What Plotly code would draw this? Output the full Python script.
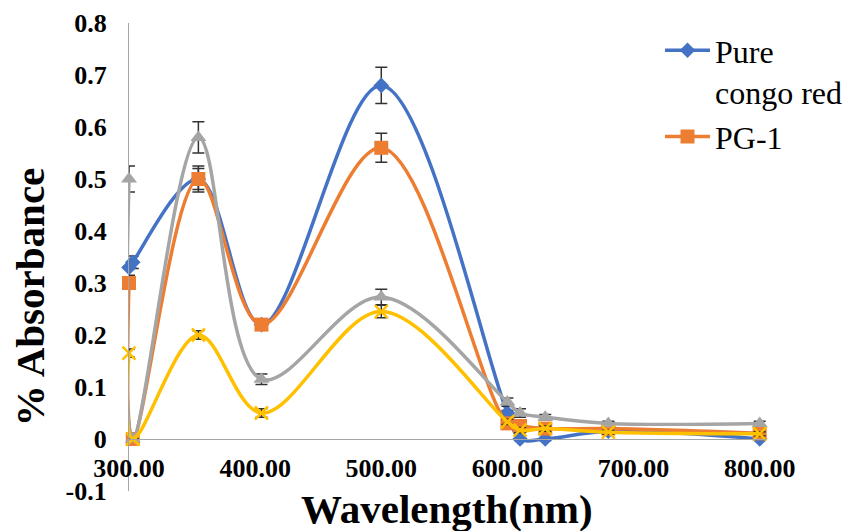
import plotly.graph_objects as go

# Wavelengths (nm) at which absorbance was recorded
wavelength = [300, 303, 355, 405, 500, 600, 610, 630, 680, 800]

# % Absorbance per sample
pure_congo_red = [0.33, 0.34, 0.50, 0.22, 0.68, 0.05, 0.00, 0.00, 0.015, 0.00]
pg_1 = [0.30, 0.00, 0.50, 0.22, 0.56, 0.03, 0.025, 0.02, 0.02, 0.011]
pg_2 = [0.50, 0.00, 0.58, 0.115, 0.273, 0.071, 0.05, 0.042, 0.03, 0.03]
pg_3 = [0.165, 0.00, 0.20, 0.05, 0.245, 0.033, 0.017, 0.02, 0.013, 0.01]

# Standard deviations (error bars)
err_pure = [0.015, 0.012, 0.02, 0.01, 0.035, 0.005, 0.003, 0.003, 0.003, 0.003]
err_pg1 = [0.01, 0.0, 0.025, 0.01, 0.028, 0.005, 0.004, 0.004, 0.004, 0.004]
err_pg2 = [0.025, 0.0, 0.03, 0.01, 0.015, 0.008, 0.008, 0.005, 0.004, 0.004]
err_pg3 = [0.008, 0.0, 0.008, 0.008, 0.012, 0.005, 0.005, 0.005, 0.004, 0.004]

x_ticks = [300, 400, 500, 600, 700, 800]
x_ticktext = ["300.00", "400.00", "500.00", "600.00", "700.00", "800.00"]
y_ticks = [-0.1, 0, 0.1, 0.2, 0.3, 0.4, 0.5, 0.6, 0.7, 0.8]
y_ticktext = ["-0.1", "0", "0.1", "0.2", "0.3", "0.4", "0.5", "0.6", "0.7", "0.8"]

SERIF = "Times New Roman, Liberation Serif, serif"

series = [
    ("Pure<br>congo red", pure_congo_red, err_pure, "#4472C4", "diamond", 12, True),
    ("PG-1", pg_1, err_pg1, "#ED7D31", "square", 14, True),
    ("PG-2", pg_2, err_pg2, "#A5A5A5", "triangle-up", 14, False),
    ("PG-3", pg_3, err_pg3, "#FFC000", "x-thin-open", 13, False),
]

fig = go.Figure()
for name, ys, errs, color, symbol, msize, in_legend in series:
    marker = dict(symbol=symbol, size=msize, color=color)
    if symbol.startswith("x"):
        marker["line"] = dict(color=color, width=2.5)
    fig.add_trace(go.Scatter(
        x=wavelength, y=ys, name=name, mode="lines+markers",
        line=dict(color=color, width=3.5, shape="spline", smoothing=1),
        marker=marker,
        error_y=dict(type="data", array=errs, visible=True,
                     color="#333333", thickness=1.5, width=6),
        showlegend=in_legend, cliponaxis=False,
    ))

y0_pos = (0 - (-0.1)) / 0.9

fig.update_layout(
    width=847, height=531, autosize=False,
    margin=dict(l=129, r=81, t=23, b=40, autoexpand=False),
    paper_bgcolor="white", plot_bgcolor="white",
    font=dict(family=SERIF, color="black"),
    xaxis=dict(
        range=[300, 805], anchor="free", position=y0_pos,
        tickvals=x_ticks, ticktext=x_ticktext, ticks="",
        showgrid=False, zeroline=False, showline=True,
        linecolor="#A6A6A6", linewidth=1.2,
        tickfont=dict(family=SERIF, size=26, weight="bold", color="black"),
        ticklabelstandoff=6,
    ),
    yaxis=dict(
        range=[-0.1, 0.8], tickvals=y_ticks, ticktext=y_ticktext, ticks="",
        showgrid=False, zeroline=False, showline=True,
        linecolor="#A6A6A6", linewidth=1.2,
        tickfont=dict(family=SERIF, size=26, weight="bold", color="black"),
        ticklabelstandoff=16,
    ),
    legend=dict(
        x=0.8336, y=1.0, xanchor="left", yanchor="top",
        font=dict(family=SERIF, size=32, color="black"),
        valign="top", bgcolor="rgba(0,0,0,0)", tracegroupgap=6,
        itemwidth=45,
    ),
    annotations=[
        dict(text="Wavelength(nm)", xref="paper", yref="paper",
             x=0.499, y=-0.0385, xanchor="center", yanchor="middle",
             showarrow=False,
             font=dict(family=SERIF, size=41, weight="bold", color="black")),
        dict(text="% Absorbance", xref="paper", yref="paper",
             x=-0.155, y=0.4145, xanchor="center", yanchor="middle",
             textangle=-90, showarrow=False,
             font=dict(family=SERIF, size=41, weight="bold", color="black")),
    ],
)

fig.write_html("out.html")
